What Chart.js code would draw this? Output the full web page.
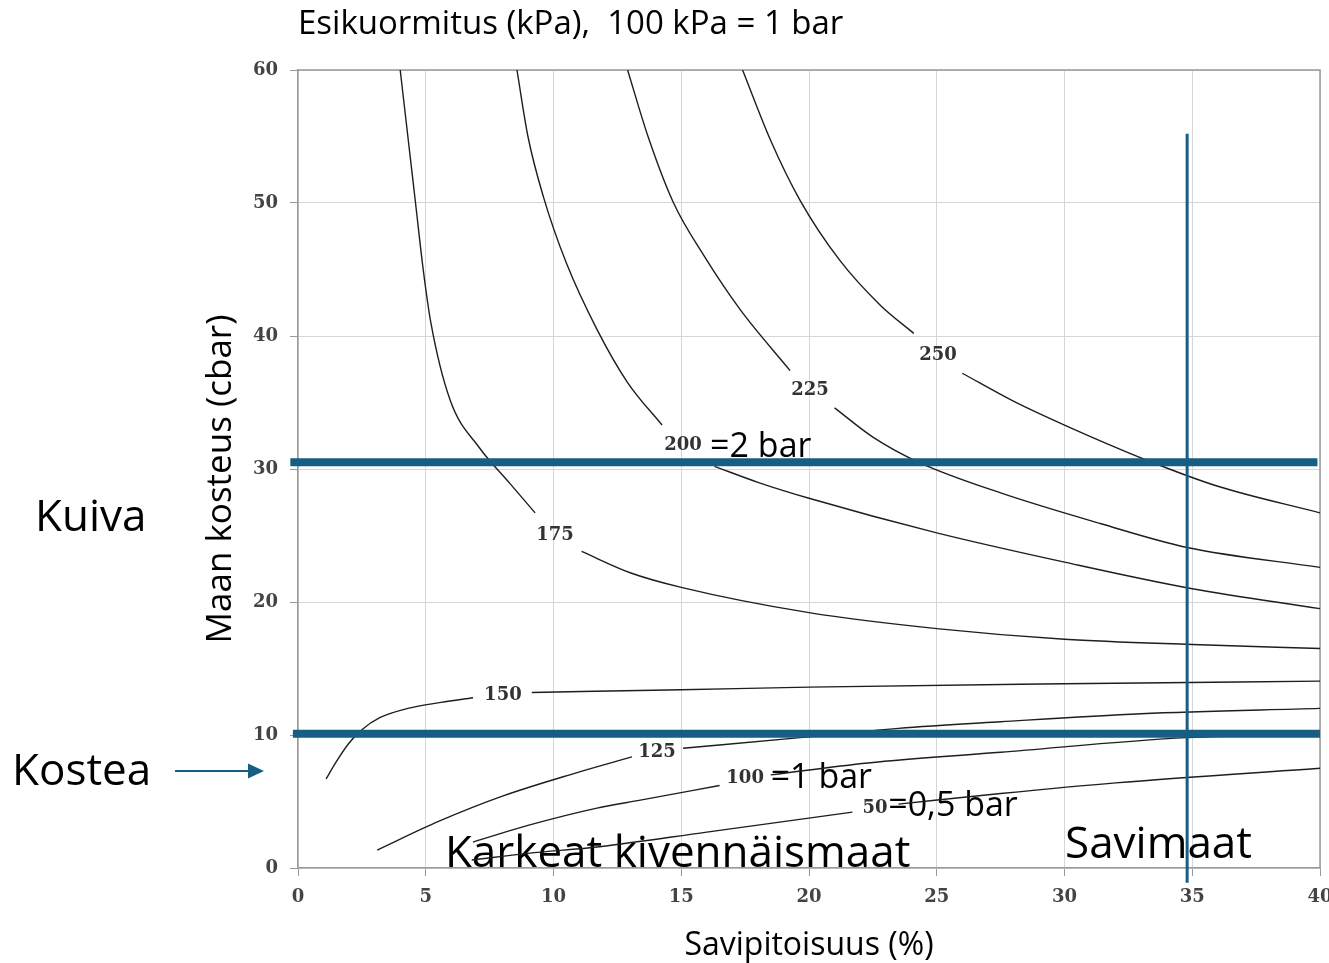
<!DOCTYPE html>
<html><head><meta charset="utf-8">
<script src="https://cdn.jsdelivr.net/npm/chart.js@4.4.0/dist/chart.umd.min.js"></script>
<style>
html,body{margin:0;padding:0;background:#fff;overflow:hidden;}
#wrap{position:absolute;left:0;top:0;width:1345px;height:963px;}
</style></head><body>
<div id="wrap"><canvas id="c"></canvas></div>
<script>
// Axis ticks
const xTicks = [0, 5, 10, 15, 20, 25, 30, 35, 40];
const yTicks = [0, 10, 20, 30, 40, 50, 60];

// Contour curves: clay % (x) and soil moisture cbar (y); null = gap for the label
const clay250 = [17.4, 18.5, 19.65, 21.2, 22.8, 24.1, 25.0, 26.0, 28.0, 30.0, 33.3, 36.0, 40.0];
const moist250 = [60, 54.7, 50.2, 45.7, 42.3, 40.2, null, 37.2, 35.1, 33.3, 30.6, 28.7, 26.7];

const clay225 = [12.9, 13.7, 14.7, 15.9, 17.3, 19.26, 20.0, 21.0, 22.5, 24.3, 27.5, 31.4, 34.8, 40.0];
const moist225 = [60, 55, 50, 46, 42, 37.4, null, 34.6, 32.4, 30.5, 28.2, 25.9, 24.1, 22.6];

const clay200 = [8.57, 9.0, 9.6, 10.5, 11.7, 12.9, 14.25, 15.1, 16.3, 18.0, 20.0, 25.0, 30.0, 35.0, 40.0];
const moist200 = [60, 55, 50.5, 45.5, 40.5, 36.5, 33.3, null, 30.2, 29.0, 27.8, 25.2, 23.0, 21.0, 19.5];

const clay175 = [4.0, 4.3, 4.6, 4.9, 5.2, 5.95, 7.1, 8.3, 9.28, 10.1, 11.1, 13.0, 15.0, 20.0, 25.0, 30.0, 35.0, 40.0];
const moist175 = [60, 55, 50, 45, 41, 35.2, 31.6, 28.9, 26.7, null, 23.8, 22.2, 21.1, 19.2, 18.0, 17.2, 16.8, 16.5];

const clay150 = [1.1, 1.5, 2.0, 2.5, 3.2, 4.3, 5.6, 6.85, 8.0, 9.15, 15.0, 20.0, 30.0, 40.0];
const moist150 = [6.7, 8.0, 9.4, 10.4, 11.3, 12.0, 12.45, 12.8, null, 13.2, 13.4, 13.6, 13.85, 14.05];

const clay125 = [3.1, 5.5, 8.0, 10.8, 13.07, 14.0, 15.07, 19.65, 23.5, 27.5, 33.0, 40.0];
const moist125 = [1.35, 3.5, 5.4, 7.1, 8.35, null, 9.0, 9.8, 10.5, 11.0, 11.6, 12.0];

const clay100 = [6.85, 9.0, 11.7, 13.4, 16.5, 17.5, 18.5, 22.3, 27.5, 34.8, 40.0];
const moist100 = [1.95, 3.2, 4.5, 5.1, 6.2, null, 7.0, 7.9, 8.7, 9.8, 10.0];

const clay50 = [6.8, 9.0, 11.8, 16.0, 21.7, 22.6, 23.5, 27.5, 32.0, 40.0];
const moist50 = [0.6, 1.1, 1.6, 2.7, 4.2, null, 4.8, 5.6, 6.4, 7.5];

// Contour labels and where they sit (data coordinates)
const contourNames = ['250', '225', '200', '175', '150', '125', '100', '50'];
const contourLabelX = [25.05, 20.04, 15.07, 10.06, 8.02, 14.05, 17.5, 22.58];
const contourLabelY = [38.57, 35.94, 31.8, 25.04, 13.0, 8.72, 6.77, 4.51];

// Reference lines
const dryLimit = 30.5;     // Kuiva
const moistLimit = 10.1;   // Kostea
const clayLimit = 34.8;    // Savimaat

const BLUE = '#165E83';
const FONT = '"Open Sans", "Noto Sans", sans-serif';
const SERIF = '"DejaVu Serif", serif';

function pts(xs, ys) { return xs.map((x, i) => ({ x: x, y: ys[i] })); }

function contour(xs, ys) {
  return {
    data: pts(xs, ys), showLine: true, pointRadius: 0, borderColor: '#1e1e1e',
    borderWidth: 1.4, cubicInterpolationMode: 'monotone', spanGaps: false, fill: false
  };
}

const datasets = [
  { data: [{ x: clayLimit, y: -1.1 }, { x: clayLimit, y: 55.2 }], showLine: true, pointRadius: 0,
    borderColor: BLUE, borderWidth: 3, clip: false },
  { data: [{ x: -0.3, y: dryLimit }, { x: 39.9, y: dryLimit }], showLine: true, pointRadius: 0,
    borderColor: BLUE, borderWidth: 8, clip: false, borderCapStyle: 'butt' },
  { data: [{ x: -0.2, y: moistLimit }, { x: 40, y: moistLimit }], showLine: true, pointRadius: 0,
    borderColor: BLUE, borderWidth: 8, clip: false, borderCapStyle: 'butt' },
  contour(clay250, moist250),
  contour(clay225, moist225),
  contour(clay200, moist200),
  contour(clay175, moist175),
  contour(clay150, moist150),
  contour(clay125, moist125),
  contour(clay100, moist100),
  contour(clay50, moist50)
];

const annot = {
  id: 'annot',
  beforeDatasetsDraw(chart) {
    const ctx = chart.ctx, xs = chart.scales.x, ys = chart.scales.y, a = chart.chartArea;
    ctx.save();
    ctx.strokeStyle = '#999';
    ctx.lineWidth = 1.5;
    ctx.beginPath();
    ctx.moveTo(a.left, a.top); ctx.lineTo(a.right, a.top); ctx.lineTo(a.right, a.bottom);
    ctx.stroke();
    ctx.fillStyle = '#000';
    ctx.textBaseline = 'alphabetic';
    ctx.textAlign = 'left';
    ctx.font = '34px ' + FONT;
    ctx.fillText('=2 bar', xs.getPixelForValue(16.13), ys.getPixelForValue(30.9));
    ctx.fillText('=1 bar', xs.getPixelForValue(18.5), ys.getPixelForValue(6.05));
    ctx.fillText('=0,5 bar', xs.getPixelForValue(23.1), ys.getPixelForValue(3.9));
    ctx.font = '44px ' + FONT;
    ctx.fillText('Karkeat kivennäismaat', xs.getPixelForValue(5.75), ys.getPixelForValue(0.05));
    ctx.fillText('Savimaat', xs.getPixelForValue(30.02), ys.getPixelForValue(0.75));
    ctx.restore();
  },
  afterDatasetsDraw(chart) {
    const ctx = chart.ctx, xs = chart.scales.x, ys = chart.scales.y;
    ctx.save();
    ctx.fillStyle = '#333';
    ctx.font = 'bold 18px ' + SERIF;
    ctx.textAlign = 'center';
    ctx.textBaseline = 'middle';
    contourNames.forEach((n, i) => {
      ctx.fillText(n, xs.getPixelForValue(contourLabelX[i]), ys.getPixelForValue(contourLabelY[i]));
    });
    ctx.fillStyle = '#000';
    ctx.textBaseline = 'alphabetic';
    ctx.textAlign = 'left';
    ctx.font = '33px ' + FONT;
    ctx.fillText('Esikuormitus (kPa),  100 kPa = 1 bar', chart.chartArea.left, 34);
    ctx.textAlign = 'center';
    ctx.font = '32px ' + FONT;
    ctx.fillText('Savipitoisuus (%)', (chart.chartArea.left + chart.chartArea.right) / 2, 955);
    ctx.save();
    ctx.translate(231, 479);
    ctx.rotate(-Math.PI / 2);
    ctx.font = '35px ' + FONT;
    ctx.fillText('Maan kosteus (cbar)', 0, 0);
    ctx.restore();
    ctx.textAlign = 'left';
    ctx.font = '44px ' + FONT;
    ctx.fillText('Kuiva', 35, 531);
    ctx.fillText('Kostea', 12, 785);
    ctx.strokeStyle = BLUE; ctx.fillStyle = BLUE; ctx.lineWidth = 2;
    ctx.beginPath(); ctx.moveTo(175, 771); ctx.lineTo(252, 771); ctx.stroke();
    ctx.beginPath(); ctx.moveTo(248, 763.5); ctx.lineTo(264, 771); ctx.lineTo(248, 778.5); ctx.closePath(); ctx.fill();
    ctx.restore();
  }
};

new Chart(document.getElementById('c'), {
  type: 'scatter',
  data: { datasets: datasets },
  plugins: [annot],
  options: {
    responsive: true, maintainAspectRatio: false, animation: false, devicePixelRatio: 1,
    layout: { padding: { left: 0, right: 25, top: 70, bottom: 0 } },
    plugins: { legend: { display: false }, tooltip: { enabled: false } },
    scales: {
      x: {
        type: 'linear', min: 0, max: 40,
        afterBuildTicks: s => { s.ticks = xTicks.map(v => ({ value: v })); },
        ticks: { color: '#444', font: { family: SERIF, weight: 'bold', size: 18 }, padding: 11, maxRotation: 0 },
        grid: { color: '#d6d6d6', tickColor: '#999', tickLength: 8, lineWidth: 1 },
        border: { color: '#999', width: 1.5 },
        afterFit: s => { s.height = 95; }
      },
      y: {
        type: 'linear', min: 0, max: 60,
        afterBuildTicks: s => { s.ticks = yTicks.map(v => ({ value: v })); },
        ticks: { color: '#444', font: { family: SERIF, weight: 'bold', size: 18 }, padding: 12 },
        grid: { color: '#d6d6d6', tickColor: '#999', tickLength: 8, lineWidth: 1 },
        border: { color: '#999', width: 1.5 },
        afterFit: s => { s.width = 298; }
      }
    }
  }
});
</script>
</body></html>
